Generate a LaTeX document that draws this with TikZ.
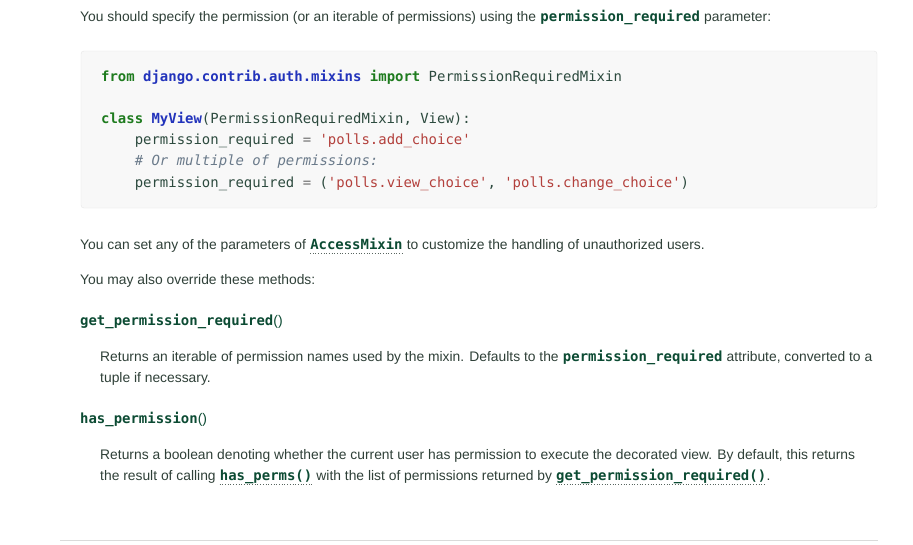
\documentclass[tikz,border=0pt]{standalone}
\usepackage{fontspec}
\setmainfont{Liberation Sans}
\setmonofont{DejaVu Sans Mono}
\usepackage{tikz}
\usetikzlibrary{positioning}

\definecolor{bodytext}{HTML}{2F4038}
\definecolor{djgreen}{HTML}{0C4B33}
\definecolor{pytext}{HTML}{2C4A3E}
\definecolor{pykeyword}{HTML}{1E7B1E}
\definecolor{pyname}{HTML}{2233BB}
\definecolor{pystring}{HTML}{B3403C}
\definecolor{pycomment}{HTML}{6A7A8A}
\definecolor{pyop}{HTML}{6F6F6F}
\definecolor{boxfill}{HTML}{F8F8F8}
\definecolor{boxline}{HTML}{E6E6E6}
\definecolor{rulegray}{HTML}{DADADA}

\newcommand{\pykw}[1]{{\bfseries\color{pykeyword}#1}}
\newcommand{\pyname}[1]{{\bfseries\color{pyname}#1}}
\newcommand{\pystr}[1]{{\color{pystring}#1}}
\newcommand{\pyop}[1]{{\color{pyop}#1}}
\newcommand{\pycom}[1]{{\itshape\color{pycomment}#1}}

\begin{document}
\begin{tikzpicture}[x=1pt,y=-1pt]
\tikzstyle{line} = [anchor=base west, inner sep=0pt, text=bodytext, font=\fontsize{13.85}{17}\selectfont]
\tikzstyle{code} = [anchor=base west, inner sep=0pt, text=pytext, font=\ttfamily\fontsize{13.95}{17}\selectfont]
\tikzstyle{word} = [anchor=base west, inner sep=0pt, text=djgreen, font=\ttfamily\bfseries\fontsize{13.95}{17}\selectfont]
\tikzstyle{dots} = [draw=bodytext!80, dotted, line width=0.7pt]
\tikzstyle{codebox} = [draw=boxline, fill=boxfill, rounded corners=3pt]

\fill[white] (0,0) rectangle (913,544);
\useasboundingbox (0,0) rectangle (913,544);

\node[line] (introA) at (80,21) {You should specify the permission (or an iterable of permissions) using the};
\node[word, right=3.8pt of introA.base east, anchor=base west] (introB) {permission\_required};
\node[line, right=3.8pt of introB.base east, anchor=base west] (introC) {parameter:};

\draw[codebox] (81,51) rectangle (877,208);
\node[code] (codeA) at (101,81) {\pykw{from} \pyname{django.contrib.auth.mixins} \pykw{import} PermissionRequiredMixin};
\node[code] (codeB) at (101,123) {\pykw{class} \pyname{MyView}(PermissionRequiredMixin, View):};
\node[code] (codeC) at (134.6,144) {permission\_required \pyop{=} \pystr{'polls.add\_choice'}};
\node[code] (codeD) at (134.6,165) {\pycom{\# Or multiple of permissions:}};
\node[code] (codeE) at (134.6,187) {permission\_required \pyop{=} (\pystr{'polls.view\_choice'}, \pystr{'polls.change\_choice'})};

\node[line] (mixinA) at (80,249) {You can set any of the parameters of};
\node[word, right=3.8pt of mixinA.base east, anchor=base west] (mixinB) {AccessMixin};
\node[line, right=3.8pt of mixinB.base east, anchor=base west] (mixinC) {to customize the handling of unauthorized users.};
\draw[dots] ([yshift=-4pt]mixinB.base west) -- ([yshift=-4pt]mixinB.base east);

\node[line] (methods) at (80,284) {You may also override these methods:};

\node[word] (getreq) at (80,325) {get\_permission\_required{\rmfamily\mdseries ()}};
\node[line] (getreqA) at (100,361) {Returns an iterable of permission names used by the mixin. Defaults to the};
\node[word, right=3.8pt of getreqA.base east, anchor=base west] (getreqB) {permission\_required};
\node[line, right=3.8pt of getreqB.base east, anchor=base west] (getreqC) {attribute, converted to a};
\node[line] (getreqD) at (100,382) {tuple if necessary.};

\node[word] (hasperm) at (80,423) {has\_permission{\rmfamily\mdseries ()}};
\node[line] (haspermA) at (100,459) {Returns a boolean denoting whether the current user has permission to execute the decorated view. By default, this returns};
\node[line] (haspermB) at (100,480) {the result of calling};
\node[word, right=3.8pt of haspermB.base east, anchor=base west] (haspermC) {has\_perms()};
\node[line, right=3.8pt of haspermC.base east, anchor=base west] (haspermD) {with the list of permissions returned by};
\node[word, right=3.8pt of haspermD.base east, anchor=base west] (haspermE) {get\_permission\_required()};
\node[line, right=0pt of haspermE.base east, anchor=base west] (haspermF) {.};
\draw[dots] ([yshift=-4pt]haspermC.base west) -- ([yshift=-4pt]haspermC.base east);
\draw[dots] ([yshift=-4pt]haspermE.base west) -- ([yshift=-4pt]haspermE.base east);

\draw[rulegray, line width=1pt] (60,540) -- (878,540);
\end{tikzpicture}
\end{document}
